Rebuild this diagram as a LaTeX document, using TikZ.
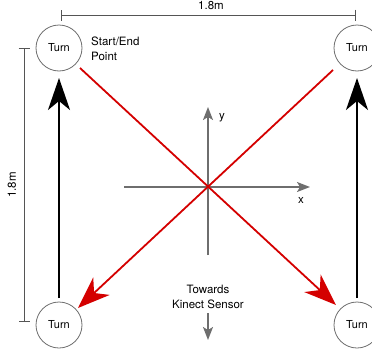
\documentclass[tikz,border=0pt]{standalone}
\usepackage{fontspec}
\setmainfont{TeX Gyre Heros}
\usetikzlibrary{arrows.meta,calc}
\definecolor{myred}{HTML}{D40000}
\definecolor{axgrey}{HTML}{6E6E6E}
\definecolor{dimgrey}{HTML}{555555}
\begin{document}
\begin{tikzpicture}[x=1pt,y=-1pt,
  turn/.style={circle,draw=axgrey,line width=0.8pt,minimum size=46pt,inner sep=0pt,font=\fontsize{11}{13}\selectfont},
  blackpath/.style={line width=2pt,-{Stealth[length=32pt,width=22pt,inset=9pt]}},
  diag/.style={myred,line width=1.8pt,-{Stealth[length=32pt,width=24pt,inset=10pt]}},
  axis/.style={axgrey,line width=1.5pt,-{Stealth[length=13pt,width=10pt,inset=3pt]}},
  dim/.style={dimgrey,line width=0.9pt,{Bar[width=11pt]}-{Bar[width=11pt]}},
  lbl/.style={font=\fontsize{11.5}{15}\selectfont,inner sep=0pt}]
\clip (0,0) rectangle (372,351);
\useasboundingbox (0,0) rectangle (372,351);
\node[turn] (tl) at (59,48) {Turn};
\node[turn] (tr) at (357,48) {Turn};
\node[turn] (bl) at (59,325) {Turn};
\node[turn] (br) at (357,325) {Turn};
\node[lbl,align=left,anchor=north west] (se) at (91,37) {Start/End\\Point};
% dimensions
\coordinate (d1) at (61,15);
\coordinate (d2) at (356,15);
\draw[dim] (d1) -- (d2);
\node[lbl] (dl1) at (211,6) {1.8m};
\coordinate (d3) at (24,48);
\coordinate (d4) at (24,322);
\draw[dim] (d3) -- (d4);
\node[lbl,rotate=90] (dl2) at (12,185) {1.8m};
% axes
\coordinate (xa) at (124,187);
\coordinate (xb) at (310,187);
\coordinate (ya) at (208,255);
\coordinate (yb) at (208,107);
\draw[axis] (xa) -- (xb);
\draw[axis] (ya) -- (yb);
\node[lbl] (xl) at (301,200) {x};
\node[lbl] (yl) at (222,118) {y};
\node[lbl,align=center] (tk) at (208,297) {Towards\\Kinect Sensor};
\coordinate (ka) at (208,313);
\coordinate (kb) at (208,340);
\draw[axis] (ka) -- (kb);
% paths
\draw[blackpath] ($(bl)+(0,-27)$) -- ($(tl)+(0,30)$);
\draw[blackpath] ($(br)+(0,-27)$) -- ($(tr)+(0,30)$);
\draw[diag] ($(tl)+(21,20)$) -- ($(br)+(-21,-20)$);
\draw[diag] ($(tr)+(-24,22)$) -- ($(bl)+(19,-17)$);
\end{tikzpicture}
\end{document}
